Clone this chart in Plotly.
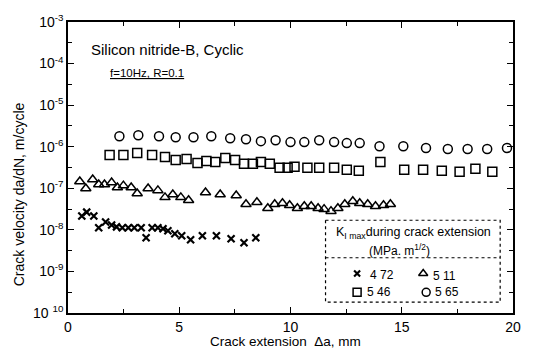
import plotly.graph_objects as go

# ---- data ----
x_472 = [0.62, 0.84, 1.16, 1.38, 1.69, 1.96, 2.18, 2.44, 2.71, 2.98, 3.29, 3.51, 3.78,
         4.04, 4.27, 4.49, 4.80, 5.11, 5.51, 6.04, 6.67, 7.33, 7.91, 8.44]
y_472 = [2.15e-8, 2.67e-8, 2.15e-8, 1.12e-8, 1.55e-8, 1.31e-8, 1.18e-8, 1.12e-8, 1.12e-8,
         1.12e-8, 1.12e-8, 6.46e-9, 1.12e-8, 1.12e-8, 1.06e-8, 9.47e-9, 8.04e-9, 7.21e-9,
         5.80e-9, 7.21e-9, 7.21e-9, 6.12e-9, 4.92e-9, 6.46e-9]

x_511 = [0.53, 0.80, 1.11, 1.38, 1.64, 1.96, 2.22, 2.49, 2.84, 3.11, 3.60, 4.04, 4.36,
         4.71, 5.07, 5.42, 6.18, 6.84, 7.56, 8.00, 8.49, 8.98, 9.29, 9.64, 9.96, 10.31,
         10.62, 10.93, 11.24, 11.51, 11.82, 12.13, 12.44, 12.80, 13.11, 13.47, 13.82,
         14.18, 14.49]
y_511 = [1.45e-7, 9.9e-8, 1.62e-7, 1.23e-7, 1.23e-7, 1.37e-7, 1.04e-7, 1.16e-7, 1.04e-7,
         7.5e-8, 9.9e-8, 8.9e-8, 6.05e-8, 7.1e-8, 6.05e-8, 5.14e-8, 7.9e-8, 7.1e-8, 6.7e-8,
         4.13e-8, 4.61e-8, 3.32e-8, 4.13e-8, 4.36e-8, 3.91e-8, 3.32e-8, 3.70e-8, 3.70e-8,
         3.32e-8, 3.15e-8, 2.82e-8, 3.32e-8, 4.13e-8, 4.86e-8, 4.36e-8, 4.13e-8, 3.70e-8,
         3.91e-8, 4.13e-8]

x_546 = [1.87, 2.49, 3.11, 3.78, 4.36, 4.84, 5.33, 5.82, 6.22, 6.62, 7.07, 7.51, 7.91,
         8.31, 8.67, 9.07, 9.51, 9.87, 10.18, 10.76, 11.29, 11.96, 12.53, 13.07, 14.04,
         15.11, 15.96, 16.80, 17.60, 18.31, 19.07]
y_546 = [6.32e-7, 6.32e-7, 7.05e-7, 6.32e-7, 5.67e-7, 4.81e-7, 5.08e-7, 4.08e-7, 4.56e-7,
         4.31e-7, 5.37e-7, 4.81e-7, 3.87e-7, 3.87e-7, 4.31e-7, 3.87e-7, 3.11e-7, 3.11e-7,
         3.29e-7, 3.11e-7, 3.11e-7, 3.11e-7, 2.79e-7, 2.64e-7, 4.31e-7, 2.79e-7, 2.79e-7,
         2.64e-7, 2.50e-7, 2.95e-7, 2.50e-7]

x_565 = [2.31, 3.16, 4.09, 4.84, 5.64, 6.44, 7.29, 8.00, 8.67, 9.33, 10.00, 10.62, 11.29,
         11.96, 12.53, 13.11, 14.00, 15.07, 16.09, 17.07, 17.96, 18.84, 19.73]
y_565 = [1.78e-6, 1.88e-6, 1.78e-6, 1.69e-6, 1.69e-6, 1.78e-6, 1.60e-6, 1.51e-6, 1.36e-6,
         1.43e-6, 1.29e-6, 1.29e-6, 1.43e-6, 1.29e-6, 1.22e-6, 1.22e-6, 1.03e-6, 1.03e-6,
         9.3e-7, 8.8e-7, 8.8e-7, 8.8e-7, 9.3e-7]

x_ticks = [0, 5, 10, 15, 20]
y_ticks = [1e-10, 1e-9, 1e-8, 1e-7, 1e-6, 1e-5, 1e-4, 1e-3]
y_ticktext = ["10 <sup>10</sup>", "10<sup>-9</sup>", "10<sup>-8</sup>", "10<sup>-7</sup>",
              "10<sup>-6</sup>", "10<sup>-5</sup>", "10<sup>-4</sup>", "10<sup>-3</sup>"]
y_minor = [10 ** (-9.5), 10 ** (-8.5), 10 ** (-7.5), 10 ** (-6.5), 10 ** (-5.5),
           10 ** (-4.5), 10 ** (-3.5)]

legend_labels = ["4 72", "5 11", "5 46", "5 65"]

FONT = "Liberation Sans, Arial, sans-serif"
BLACK = "black"

# plot-area pixel frame
L, R, T, B = 68, 519, 18, 313
W, H = 533, 353

fig = go.Figure()

series = [
    (x_472, y_472, "x-thin-open", 7, 2.2),
    (x_511, y_511, "triangle-up-open", 9, 1.5),
    (x_546, y_546, "square-open", 9, 1.5),
    (x_565, y_565, "circle-open", 9, 1.5),
]
for xs, ys, sym, sz, lw in series:
    fig.add_trace(go.Scatter(
        x=xs, y=ys, mode="markers",
        marker=dict(symbol=sym, size=sz, color=BLACK, line=dict(color=BLACK, width=lw)),
        showlegend=False, xaxis="x", yaxis="y"))

# legend keys on an overlay axis expressed in pixel coordinates
key_px = [(361, 273), (428, 273), (361, 292), (431, 292)]
key_txt_px = [(372, 274), (436, 275), (369, 292), (438, 292)]
for i, (xs, ys, sym, sz, lw) in enumerate(series):
    fig.add_trace(go.Scatter(
        x=[key_px[i][0]], y=[key_px[i][1]], mode="markers",
        marker=dict(symbol=sym, size=sz - 1, color=BLACK, line=dict(color=BLACK, width=lw)),
        cliponaxis=False, showlegend=False, xaxis="x2", yaxis="y2"))
    fig.add_annotation(xref="x2", yref="y2", x=key_txt_px[i][0], y=key_txt_px[i][1],
                       text=legend_labels[i], showarrow=False, xanchor="left",
                       yanchor="middle", font=dict(family=FONT, size=12, color=BLACK))

axis_common = dict(
    showline=True, linecolor=BLACK, linewidth=1.5, mirror="ticks",
    ticks="inside", ticklen=6, tickwidth=1.2, tickcolor=BLACK,
    showgrid=False, zeroline=False,
)

fig.update_layout(
    width=W, height=H,
    margin=dict(l=L, r=W - R, t=T, b=H - B),
    paper_bgcolor="white", plot_bgcolor="white",
    xaxis=dict(range=[0, 20], tickvals=x_ticks, ticktext=[str(v) for v in x_ticks],
               minor=dict(tickvals=[2.5, 7.5, 12.5, 17.5], ticks="inside", ticklen=4,
                          tickwidth=1, tickcolor=BLACK),
               tickfont=dict(family=FONT, size=14, color=BLACK),
               **axis_common),
    yaxis=dict(type="log", range=[-10, -3], tickvals=y_ticks, ticktext=y_ticktext,
               minor=dict(tickvals=y_minor, ticks="inside", ticklen=4,
                          tickwidth=1, tickcolor=BLACK),
               tickfont=dict(family=FONT, size=14, color=BLACK),
               **axis_common),
    xaxis2=dict(domain=[0, 1], range=[L, R], anchor="y2", overlaying="x",
                visible=False, fixedrange=True),
    yaxis2=dict(domain=[0, 1], range=[B, T], anchor="x2", overlaying="y",
                visible=False, fixedrange=True),
)

# legend box (dashed)
fig.add_shape(type="rect", xref="x2", yref="y2", x0=329, x1=506, y0=219, y1=302,
              line=dict(color=BLACK, width=1.2, dash="dot"))
fig.add_shape(type="line", xref="x2", yref="y2", x0=329, x1=506, y0=257, y1=257,
              line=dict(color=BLACK, width=1.2, dash="dot"))

fig.add_annotation(xref="x2", yref="y2", x=418, y=232,
                   text="K<sub>I max</sub>during crack extension", showarrow=False,
                   font=dict(family=FONT, size=12.5, color=BLACK),
                   xanchor="center", yanchor="middle")
fig.add_annotation(xref="x2", yref="y2", x=404, y=249,
                   text="(MPa. m<sup>1/2</sup>)", showarrow=False,
                   font=dict(family=FONT, size=12, color=BLACK),
                   xanchor="center", yanchor="middle")

fig.add_annotation(xref="x2", yref="y2", x=89, y=46,
                   text="Silicon nitride-B, Cyclic", showarrow=False,
                   font=dict(family=FONT, size=15, color=BLACK),
                   xanchor="left", yanchor="middle")
fig.add_annotation(xref="x2", yref="y2", x=109, y=70,
                   text="<u>f=10Hz, R=0.1</u>", showarrow=False,
                   font=dict(family=FONT, size=11.5, color=BLACK),
                   xanchor="left", yanchor="middle")

# axis titles (positions given in paper fractions of the plot area)
fig.add_annotation(xref="paper", yref="paper", x=(18 - L) / (R - L), y=(B - 193) / (B - T),
                   text="Crack velocity da/dN, m/cycle", showarrow=False, textangle=-90,
                   font=dict(family=FONT, size=14, color=BLACK),
                   xanchor="center", yanchor="middle")
fig.add_annotation(xref="paper", yref="paper", x=(288 - L) / (R - L), y=(B - 352) / (B - T),
                   text="Crack extension  Δa, mm", showarrow=False,
                   font=dict(family=FONT, size=13.5, color=BLACK),
                   xanchor="center", yanchor="bottom")

fig.write_html("out.html")
